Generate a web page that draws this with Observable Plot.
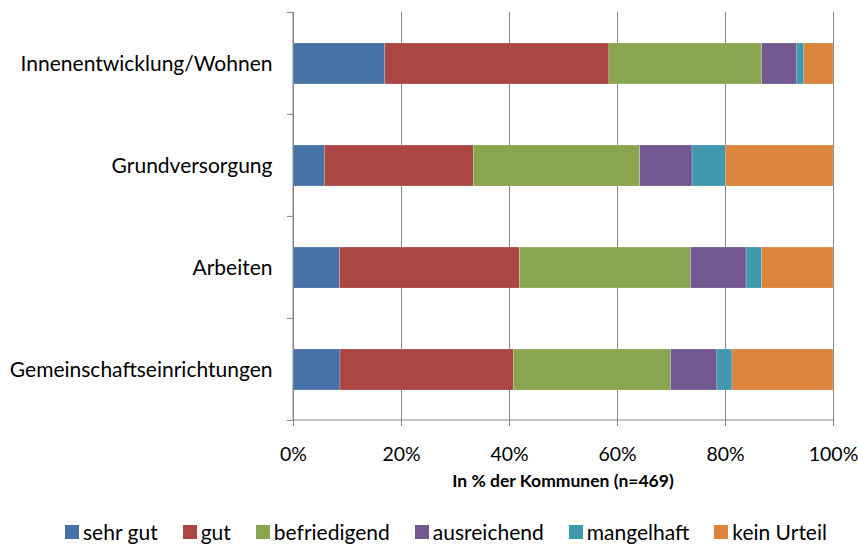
<!DOCTYPE html>
<html><head><meta charset="utf-8">
<script src="https://cdn.jsdelivr.net/npm/d3@7"></script>
<script src="https://cdn.jsdelivr.net/npm/@observablehq/plot@0.6"></script>
<style>
body{margin:0;background:#fff;font-family:Lato,sans-serif;}
#wrap{width:858px;height:544px;position:relative;}
#title{position:absolute;left:293px;width:540px;top:470px;text-align:center;font-size:17.5px;font-weight:bold;color:#000;}
#legend{position:absolute;left:0;width:858px;top:519px;display:flex;justify-content:center;gap:25px;font-size:21px;color:#000;padding-left:34px;box-sizing:border-box;}
#legend span.item{display:flex;align-items:center;gap:4px;}
#legend span.sw{width:14px;height:14px;display:inline-block;}
</style></head>
<body><div id="wrap"><div id="chart"></div><div id="title"></div><div id="legend"></div></div>
<script>
const categories = ["Innenentwicklung/Wohnen","Grundversorgung","Arbeiten","Gemeinschaftseinrichtungen"];
const series = ["sehr gut","gut","befriedigend","ausreichend","mangelhaft","kein Urteil"];
const colors = ["#4672A8","#AA4744","#8AA54F","#71588F","#4198AF","#DB843D"];
const sehrGut      = [17.0, 5.8, 8.6, 8.7];
const gut          = [41.5, 27.6, 33.3, 32.1];
const befriedigend = [28.3, 30.8, 31.7, 29.1];
const ausreichend  = [6.5, 9.7, 10.3, 8.6];
const mangelhaft   = [1.3, 6.2, 2.9, 2.8];
const keinUrteil   = [5.4, 19.9, 13.2, 18.7];
const xTicks = [0,20,40,60,80,100];
const axisTitle = "In % der Kommunen (n=469)";

const seriesValues = [sehrGut, gut, befriedigend, ausreichend, mangelhaft, keinUrteil];
const data = [];
categories.forEach((c,i)=>series.forEach((s,j)=>data.push({cat:c, series:s, value:seriesValues[j][i]})));

const axisColor = "#868686";
const boundaryTicks = (index, scales, values, dims) => {
  const y = scales.y, x = scales.x;
  const step = y(categories[1]) - y(categories[0]);
  const bw = step * 0.4;
  const g = d3.create("svg:g").attr("stroke", axisColor).attr("stroke-width", 1);
  const x0 = x(0);
  const top = dims.marginTop, bottom = dims.height - dims.marginBottom;
  g.append("line").attr("x1", x0).attr("x2", x0).attr("y1", top).attr("y2", bottom);
  g.append("line").attr("x1", x0).attr("x2", x(100)).attr("y1", bottom).attr("y2", bottom);
  categories.forEach((c,i)=>{
    const yc = y(c) + bw/2;
    const yb = yc - step/2;
    g.append("line").attr("x1", x0-6).attr("x2", x0).attr("y1", yb).attr("y2", yb);
    if (i === categories.length-1) {
      g.append("line").attr("x1", x0-6).attr("x2", x0).attr("y1", yc+step/2).attr("y2", yc+step/2);
    }
  });
  return g.node();
};

const chart = Plot.plot({
  width: 858, height: 468,
  marginLeft: 293, marginRight: 25, marginTop: 12, marginBottom: 48,
  style: {fontFamily: "Lato, sans-serif", fontSize: "21px", color: "#000", background: "#fff"},
  x: {domain: [0,100]},
  y: {domain: categories, paddingInner: 0.6, paddingOuter: 0.3},
  color: {domain: series, range: colors},
  marks: [
    Plot.gridX(xTicks, {stroke: axisColor, strokeOpacity: 1}),
    Plot.barX(data, Plot.stackX({x: "value", y: "cat", fill: "series", stroke: "#fff", strokeOpacity: 0.35, strokeWidth: 0.6})),
    Plot.axisX(xTicks, {tickFormat: d => d + "%", tickSize: 6, tickPadding: 21, stroke: axisColor, fill: "#000", fontSize: 19.5, label: null}),
    Plot.axisY({tickSize: 0, tickPadding: 21, fill: "#000", fontSize: 21, label: null}),
    boundaryTicks
  ]
});
document.getElementById("chart").appendChild(chart);
document.getElementById("title").textContent = axisTitle;
const leg = document.getElementById("legend");
series.forEach((s,i)=>{
  const it = document.createElement("span"); it.className="item";
  const sw = document.createElement("span"); sw.className="sw"; sw.style.background = colors[i];
  const t = document.createElement("span"); t.textContent = s;
  it.appendChild(sw); it.appendChild(t); leg.appendChild(it);
});
</script></body></html>
